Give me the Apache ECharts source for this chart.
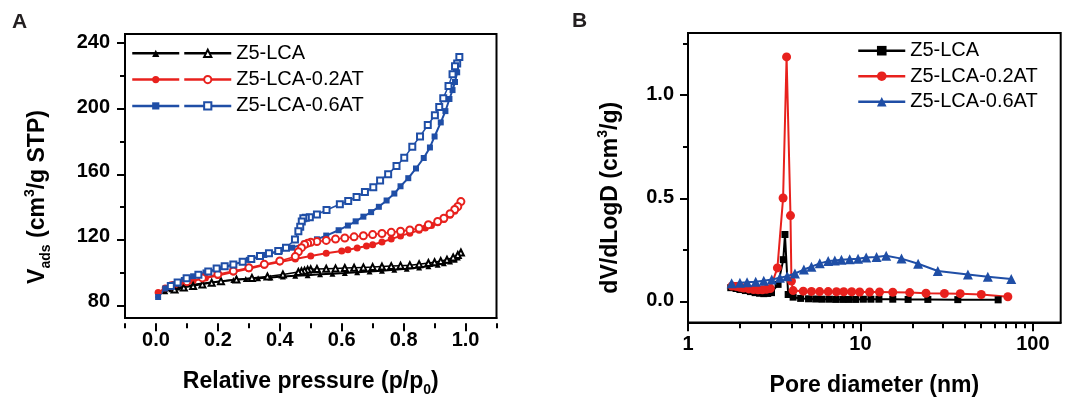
<!DOCTYPE html>
<html>
<head>
<meta charset="utf-8">
<title>Z5-LCA N2 sorption and pore size distribution</title>
<script src="https://cdn.jsdelivr.net/npm/echarts@6/dist/echarts.min.js"></script>
<style>
  html, body { margin: 0; padding: 0; background: #ffffff; }
  #chart { width: 1067px; height: 402px; }
</style>
</head>
<body>
<div id="chart"></div>
<script>
// ---- Panel A: N2 adsorption / desorption isotherms (p/p0 vs V_ads, cm3/g STP) ----
const lcaAdsP = [0.007, 0.03, 0.05, 0.07, 0.09, 0.12, 0.15, 0.18, 0.21, 0.25, 0.29, 0.33, 0.37, 0.41, 0.45, 0.49, 0.53, 0.57, 0.61, 0.65, 0.69, 0.73, 0.77, 0.81, 0.85, 0.88, 0.91, 0.93, 0.95, 0.965, 0.975, 0.985];
const lcaAdsV = [84, 86, 87.3, 88.3, 89, 90, 90.8, 91.5, 92.2, 93, 93.6, 94.1, 94.6, 95.1, 95.6, 96, 96.5, 96.9, 97.3, 97.8, 98.3, 98.8, 99.4, 100, 100.8, 101.5, 102.5, 103.3, 104.5, 105.5, 107, 110];
const lcaDesP = [0.985, 0.975, 0.96, 0.94, 0.92, 0.9, 0.88, 0.85, 0.82, 0.79, 0.76, 0.73, 0.7, 0.67, 0.64, 0.61, 0.58, 0.55, 0.52, 0.5, 0.49, 0.48, 0.47, 0.46, 0.41, 0.36, 0.31, 0.26, 0.21, 0.18, 0.15, 0.12, 0.09, 0.06];
const lcaDesV = [110, 108.5, 107, 105.5, 104.7, 104, 103.5, 102.8, 102.2, 101.9, 101.6, 101.3, 101, 100.8, 100.6, 100.4, 100.2, 100, 99.8, 99.6, 99.3, 98.8, 98.4, 98, 96.4, 95.2, 94.3, 93.3, 92.3, 91.3, 90.3, 89.3, 88.3, 87.2];

const at02AdsP = [0.007, 0.03, 0.06, 0.09, 0.12, 0.16, 0.2, 0.25, 0.3, 0.35, 0.4, 0.45, 0.5, 0.55, 0.6, 0.62, 0.65, 0.68, 0.7, 0.73, 0.76, 0.79, 0.82, 0.85, 0.87, 0.89, 0.91, 0.93, 0.95, 0.965, 0.975, 0.985];
const at02AdsV = [85.2, 88, 89.8, 91.2, 92.5, 94.2, 95.8, 98, 100, 102.2, 104.2, 106, 107.8, 109.5, 111, 111.7, 112.8, 114, 114.8, 116.5, 118.3, 120.3, 122, 123.8, 125.2, 126.7, 128.5, 130.5, 133, 135.5, 138, 141.5];
const at02DesP = [0.985, 0.975, 0.965, 0.95, 0.93, 0.91, 0.88, 0.85, 0.82, 0.79, 0.76, 0.73, 0.7, 0.67, 0.64, 0.61, 0.58, 0.55, 0.52, 0.5, 0.49, 0.48, 0.47, 0.46, 0.45, 0.4, 0.35, 0.3, 0.25, 0.2, 0.15, 0.1, 0.05];
const at02DesV = [141.5, 138.5, 136.6, 134, 131.2, 129.2, 127.2, 125, 124, 123.2, 122.5, 121.8, 121.1, 120.4, 119.7, 119, 118.3, 117.5, 116.8, 116.3, 115.8, 115, 113, 110.5, 107.5, 104.8, 102.7, 100.6, 98.6, 96.6, 94.3, 92, 89.5];

const at06AdsP = [0.007, 0.03, 0.06, 0.09, 0.12, 0.16, 0.2, 0.25, 0.3, 0.35, 0.4, 0.44, 0.48, 0.52, 0.55, 0.59, 0.62, 0.645, 0.67, 0.695, 0.72, 0.745, 0.77, 0.79, 0.815, 0.84, 0.865, 0.885, 0.9, 0.92, 0.935, 0.948, 0.958, 0.966, 0.973, 0.98];
const at06AdsV = [82.5, 87.8, 90.5, 93, 95.3, 97.7, 99.7, 102.5, 105.5, 108.5, 110.8, 113, 115.5, 118.2, 120.5, 123.8, 126.7, 129.3, 132.2, 135, 138.3, 142.2, 146.5, 151, 156, 162, 168.5, 175, 181.8, 190.5, 197.5, 205, 210.5, 215.5, 221.5, 231];
const at06DesP = [0.98, 0.973, 0.966, 0.958, 0.945, 0.928, 0.915, 0.901, 0.878, 0.853, 0.828, 0.802, 0.777, 0.75, 0.724, 0.702, 0.675, 0.648, 0.621, 0.594, 0.551, 0.52, 0.497, 0.484, 0.476, 0.471, 0.466, 0.46, 0.449, 0.42, 0.395, 0.365, 0.336, 0.308, 0.28, 0.25, 0.222, 0.196, 0.169, 0.137, 0.099, 0.07, 0.048];
const at06DesV = [231, 227, 225.3, 220.3, 213, 205.5, 200, 194.9, 188.9, 181.8, 175.5, 168.6, 163.6, 158.5, 154.5, 150.4, 147.4, 144.4, 141.9, 139.9, 136.3, 133.5, 131.8, 131.5, 131.2, 129.2, 126, 123.1, 118.1, 113, 111, 109.5, 107.9, 106, 104.3, 102.6, 101.5, 100.2, 98.2, 96.2, 94.1, 91.5, 89.3];

// ---- Panel B: pore size distributions (pore diameter in nm vs dV/dlogD, cm3/g) ----
const lcaPoreD = [1.77, 1.9, 2.0, 2.15, 2.3, 2.45, 2.6, 2.75, 2.9, 3.05, 3.33, 3.57, 3.65, 3.81, 4.07, 4.5, 5.0, 5.5, 6.0, 6.6, 7.2, 7.9, 8.6, 9.4, 10.4, 11.5, 12.8, 15.4, 18.9, 24.6, 36.7, 62.9];
const lcaPoreV = [0.064, 0.06, 0.055, 0.05, 0.045, 0.04, 0.037, 0.035, 0.036, 0.04, 0.08, 0.2, 0.322, 0.031, 0.018, 0.012, 0.01, 0.009, 0.008, 0.008, 0.007, 0.007, 0.007, 0.007, 0.008, 0.008, 0.008, 0.008, 0.007, 0.007, 0.006, 0.005];
const at02PoreD = [1.8, 1.9, 2.0, 2.1, 2.25, 2.4, 2.55, 2.7, 2.85, 3.0, 3.3, 3.56, 3.73, 3.93, 3.98, 4.07, 4.66, 5.2, 5.8, 6.5, 7.26, 8.0, 8.9, 9.9, 11.3, 12.9, 15.4, 19.3, 24.0, 30.7, 37.9, 50.2, 71.6];
const at02PoreV = [0.072, 0.07, 0.066, 0.062, 0.058, 0.055, 0.054, 0.054, 0.056, 0.06, 0.16, 0.499, 1.184, 0.414, 0.096, 0.05, 0.047, 0.046, 0.045, 0.045, 0.044, 0.044, 0.044, 0.043, 0.043, 0.043, 0.042, 0.04, 0.037, 0.036, 0.035, 0.031, 0.02];
const at06PoreD = [1.79, 2.0, 2.2, 2.47, 2.75, 3.06, 3.41, 3.76, 4.17, 4.7, 5.2, 5.81, 6.5, 7.1, 7.76, 8.66, 9.69, 10.8, 12.4, 14.1, 17.3, 21.6, 28.1, 42, 54.8, 74.9];
const at06PoreV = [0.085, 0.088, 0.09, 0.093, 0.098, 0.104, 0.112, 0.12, 0.133, 0.152, 0.166, 0.182, 0.193, 0.196, 0.2, 0.202, 0.204, 0.21, 0.213, 0.219, 0.205, 0.18, 0.145, 0.128, 0.117, 0.106];

// ---- Tick positions ----
const pressureTicks = [0, 0.2, 0.4, 0.6, 0.8, 1.0];
const pressureMinorTicks = [-0.1, 0.1, 0.3, 0.5, 0.7, 0.9, 1.1];
const volumeTicks = [80, 120, 160, 200, 240];
const volumeMinorTicks = [100, 140, 180, 220];
const poreTicks = [1, 10, 100];
const poreMinorTicks = [2, 3, 4, 5, 6, 7, 8, 9, 20, 30, 40, 50, 60, 70, 80, 90];
const dvTicks = [0, 0.5, 1.0];
const dvMinorTicks = [0.25, 0.75, 1.25];

const sampleNames = ['Z5-LCA', 'Z5-LCA-0.2AT', 'Z5-LCA-0.6AT'];

const FONT = 'Liberation Sans, Arial, Helvetica, sans-serif';
const BLACK = '#000000';
const RED = '#e8211d';
const BLUE = '#1f4ea6';

const zip = (xs, ys) => xs.map((x, i) => [x, ys[i]]);

// Axis ranges
const rangeA = { x: [-0.1, 1.1], y: [69.5, 245.2] };
const rangeB = { x: [1, 145], y: [-0.105, 1.3] };

// Plot frames. Outward ticks are drawn by tick-only helper axes in their own helper grids:
// x ticks sit in taller grids, pulled back onto the bottom edge with a negative offset;
// y ticks sit on the left edge of a grid that matches the frame.
const PAD = 30;
const MAJOR = 8;
const MINOR = 5;
const frameA = { left: 125, top: 34, width: 371.5, height: 289.3 };
const frameB = { left: 688, top: 33, width: 372.7, height: 290.3 };
const deepen = (f) => ({ left: f.left, top: f.top, width: f.width, height: f.height + PAD });

const labelStyle = { color: BLACK, fontSize: 20, fontWeight: 'bold', fontFamily: FONT };
const lineOn = { show: true, onZero: false, lineStyle: { color: BLACK, width: 2 } };
const lineOff = { show: false, onZero: false };

const titleRich = {
  b: { fontSize: 23, fontWeight: 'bold', fontFamily: FONT, color: BLACK, lineHeight: 30 },
  sub: { fontSize: 14, fontWeight: 'bold', fontFamily: FONT, color: BLACK, lineHeight: 14, verticalAlign: 'bottom' },
  sup: { fontSize: 14, fontWeight: 'bold', fontFamily: FONT, color: BLACK, lineHeight: 14, verticalAlign: 'top' }
};

function xTickAxis(type, gridIndex, range, values, length) {
  return {
    type: type, gridIndex: gridIndex, min: range[0], max: range[1], position: 'bottom', offset: -PAD,
    axisLine: lineOff, axisLabel: { show: false }, splitLine: { show: false }, minorTick: { show: false },
    axisTick: { show: true, inside: false, customValues: values, length: length, lineStyle: { color: BLACK, width: 2 } }
  };
}
function yTickAxis(gridIndex, range, values, length) {
  return {
    type: 'value', gridIndex: gridIndex, min: range[0], max: range[1], position: 'left',
    axisLine: lineOff, axisLabel: { show: false }, splitLine: { show: false }, minorTick: { show: false },
    axisTick: { show: true, inside: false, customValues: values, length: length, lineStyle: { color: BLACK, width: 2 } }
  };
}
function hiddenAxis(type, gridIndex, range) {
  return {
    type: type, gridIndex: gridIndex, min: range[0], max: range[1],
    axisLine: lineOff, axisTick: { show: false }, axisLabel: { show: false }, splitLine: { show: false }
  };
}

const adsName = (n) => n + ' (adsorption)';
const desName = (n) => n + ' (desorption)';

function isoSeries(name, xs, ys, color, symbol, size, lineWidth, filled) {
  return {
    name: name, type: 'line', xAxisIndex: 0, yAxisIndex: 0,
    data: zip(xs, ys),
    symbol: symbol, symbolSize: size, showAllSymbol: true,
    lineStyle: { color: color, width: lineWidth },
    itemStyle: filled ? { color: color } : { color: color, borderColor: color, borderWidth: 1.3 },
    z: filled ? 3 : 4
  };
}

function poreSeries(name, xs, ys, color, symbol, size) {
  return {
    name: name, type: 'line', xAxisIndex: 1, yAxisIndex: 1,
    data: zip(xs, ys),
    symbol: symbol, symbolSize: size, showAllSymbol: true,
    lineStyle: { color: color, width: 2 },
    itemStyle: { color: color }
  };
}

const chart = echarts.init(document.getElementById('chart'), null, { renderer: 'canvas' });

const frameStyle = { show: true, borderColor: BLACK, borderWidth: 2, backgroundColor: 'transparent' };

const option = {
  animation: false,
  backgroundColor: '#ffffff',
  textStyle: { fontFamily: FONT },
  grid: [
    Object.assign({}, frameStyle, frameA),          // 0: panel A data
    Object.assign({}, frameStyle, frameB),          // 1: panel B data
    Object.assign({ show: false }, deepen(frameA)), // 2: A x ticks
    Object.assign({ show: false }, deepen(frameB)), // 3: B x ticks
    Object.assign({ show: false }, frameA),         // 4: A y ticks
    Object.assign({ show: false }, frameB)          // 5: B y ticks
  ],
  xAxis: [
    { // 0: A relative pressure, labels + title
      type: 'value', gridIndex: 0, min: rangeA.x[0], max: rangeA.x[1], position: 'bottom',
      axisLine: lineOn, axisTick: { show: false },
      axisLabel: Object.assign({ customValues: pressureTicks, margin: 12, formatter: (v) => v.toFixed(1) }, labelStyle),
      splitLine: { show: false },
      name: '{b|Relative pressure (p/p}{sub|0}{b|)}',
      nameLocation: 'middle', nameGap: 49,
      nameTextStyle: { rich: titleRich }
    },
    { // 1: B pore diameter (log), labels + title
      type: 'log', logBase: 10, gridIndex: 1, min: rangeB.x[0], max: rangeB.x[1], position: 'bottom',
      axisLine: lineOn, axisTick: { show: false }, minorTick: { show: false },
      axisLabel: Object.assign({ customValues: poreTicks, margin: 12 }, labelStyle),
      splitLine: { show: false },
      name: '{b|Pore diameter (nm)}',
      nameLocation: 'middle', nameGap: 48,
      nameTextStyle: { rich: titleRich }
    },
    xTickAxis('value', 2, rangeA.x, pressureTicks, MAJOR),
    xTickAxis('value', 2, rangeA.x, pressureMinorTicks, MINOR),
    xTickAxis('log', 3, rangeB.x, poreTicks, MAJOR),
    xTickAxis('log', 3, rangeB.x, poreMinorTicks, MINOR),
    hiddenAxis('value', 4, rangeA.x),
    hiddenAxis('log', 5, rangeB.x)
  ],
  yAxis: [
    { // 0: A adsorbed volume
      type: 'value', gridIndex: 0, min: rangeA.y[0], max: rangeA.y[1], position: 'left',
      axisLine: lineOn, axisTick: { show: false },
      axisLabel: Object.assign({ customValues: volumeTicks, margin: 15 }, labelStyle),
      splitLine: { show: false },
      name: '{b|V}{sub|ads}{b| (cm}{sup|3}{b|/g STP)}',
      nameLocation: 'middle', nameGap: 72, nameRotate: 90,
      nameTextStyle: { rich: titleRich, padding: [0, 42, 0, 0] }
    },
    { // 1: B dV/dlogD
      type: 'value', gridIndex: 1, min: rangeB.y[0], max: rangeB.y[1], position: 'left',
      axisLine: lineOn, axisTick: { show: false },
      axisLabel: Object.assign({ customValues: dvTicks, margin: 14, formatter: (v) => v.toFixed(1) }, labelStyle),
      splitLine: { show: false },
      name: '{b|dV/dLogD (cm}{sup|3}{b|/g)}',
      nameLocation: 'middle', nameGap: 62, nameRotate: 90,
      nameTextStyle: { rich: titleRich, padding: [0, 40, 0, 0] }
    },
    hiddenAxis('value', 2, rangeA.y),
    hiddenAxis('value', 3, rangeB.y),
    yTickAxis(4, rangeA.y, volumeTicks, MAJOR),
    yTickAxis(4, rangeA.y, volumeMinorTicks, MINOR),
    yTickAxis(5, rangeB.y, dvTicks, MAJOR),
    yTickAxis(5, rangeB.y, dvMinorTicks, MINOR)
  ],
  legend: [
    { // A: adsorption branch keys (filled symbols), no text
      data: sampleNames.map(adsName),
      left: 131, top: 43.3, orient: 'vertical', padding: 0,
      itemWidth: 47, itemHeight: 9, itemGap: 6.3, selectedMode: false,
      lineStyle: { width: 2.5 },
      formatter: () => ' ',
      textStyle: { fontSize: 20, lineHeight: 20, color: BLACK, fontFamily: FONT }
    },
    { // A: desorption branch keys (open symbols) with sample names
      data: sampleNames.map(desName),
      left: 183, top: 43.3, orient: 'vertical', padding: 0,
      itemWidth: 47, itemHeight: 9, itemGap: 6.3, selectedMode: false,
      lineStyle: { width: 2.5 },
      formatter: (name) => name.replace(' (desorption)', ''),
      textStyle: { fontSize: 20, lineHeight: 20, color: BLACK, fontFamily: FONT }
    },
    { // B
      data: sampleNames,
      left: 857, top: 40.7, orient: 'vertical', padding: 0,
      itemWidth: 47, itemHeight: 12, itemGap: 5.5, selectedMode: false,
      lineStyle: { width: 2.5 },
      textStyle: { fontSize: 20, lineHeight: 20, color: BLACK, fontFamily: FONT }
    }
  ],
  graphic: [
    { type: 'text', left: 12, top: 12, style: { text: 'A', fontSize: 21, fontWeight: 'bold', fontFamily: FONT, fill: '#231f20' } },
    { type: 'text', left: 572, top: 11, style: { text: 'B', fontSize: 21, fontWeight: 'bold', fontFamily: FONT, fill: '#231f20' } }
  ],
  series: [
    isoSeries(adsName(sampleNames[0]), lcaAdsP, lcaAdsV, BLACK, 'triangle', 6, 2, true),
    isoSeries(desName(sampleNames[0]), lcaDesP, lcaDesV, BLACK, 'emptyTriangle', 6, 1.5, false),
    isoSeries(adsName(sampleNames[1]), at02AdsP, at02AdsV, RED, 'circle', 7, 2, true),
    isoSeries(desName(sampleNames[1]), at02DesP, at02DesV, RED, 'emptyCircle', 7, 1.5, false),
    isoSeries(adsName(sampleNames[2]), at06AdsP, at06AdsV, BLUE, 'rect', 6, 2, true),
    isoSeries(desName(sampleNames[2]), at06DesP, at06DesV, BLUE, 'emptyRect', 6, 1.5, false),
    poreSeries(sampleNames[0], lcaPoreD, lcaPoreV, BLACK, 'rect', 7),
    poreSeries(sampleNames[1], at02PoreD, at02PoreV, RED, 'circle', 9),
    poreSeries(sampleNames[2], at06PoreD, at06PoreV, BLUE, 'triangle', 10)
  ]
};

chart.setOption(option);
</script>
</body>
</html>
